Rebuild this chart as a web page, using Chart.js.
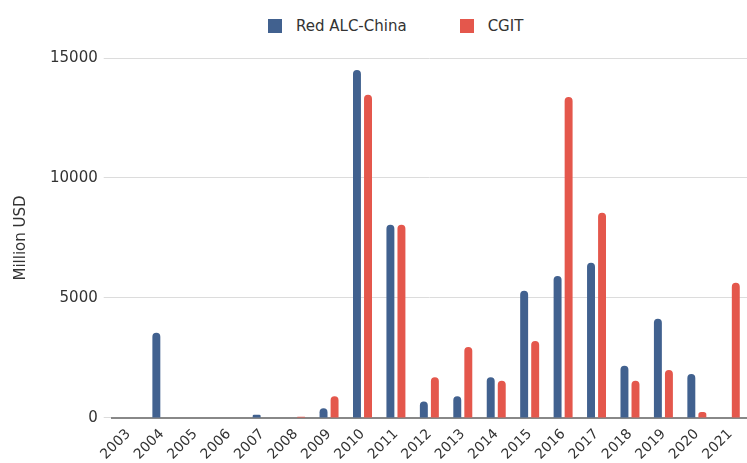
<!DOCTYPE html>
<html>
<head>
<meta charset="utf-8">
<script src="https://cdn.jsdelivr.net/npm/chart.js@4"></script>
<style>
    html, body { margin: 0; padding: 0; background: #fff; }
    #wrap { position: relative; width: 747px; height: 463px; font-family: "DejaVu Sans", Verdana, sans-serif; color: #333; }
    #legend { position: absolute; top: 17px; left: 268px; display: flex; align-items: center; font-size: 15px; white-space: nowrap; }
    #legend .item { display: flex; align-items: center; margin-right: 53px; }
    #legend .box { width: 14px; height: 14px; margin-right: 14px; }
    #canvas-box { position: absolute; top: 43px; left: 0; width: 747px; height: 420px; }
</style>
</head>
<body>
<div id="wrap">
    <div id="legend"></div>
    <div id="canvas-box"><canvas id="chart"></canvas></div>
</div>
<script>
const years = ['2003', '2004', '2005', '2006', '2007', '2008', '2009', '2010', '2011', '2012',
    '2013', '2014', '2015', '2016', '2017', '2018', '2019', '2020', '2021'];
const redAlcChina = [20, 3550, 0, 15, 130, 15, 400, 14500, 8050, 680, 900, 1700, 5300, 5920, 6470, 2170, 4130, 1830, 0];
const cgit = [0, 0, 0, 0, 0, 50, 900, 13470, 8050, 1700, 2960, 1550, 3210, 13370, 8550, 1550, 2000, 250, 5630];
const yTicks = [0, 5000, 10000, 15000];
const seriesNames = ['Red ALC-China', 'CGIT'];
const seriesColors = ['#41618f', '#e4574c'];

Chart.defaults.font.family = '"DejaVu Sans", Verdana, sans-serif';
Chart.defaults.font.size = 15;
Chart.defaults.color = '#333';

// leyenda en HTML para controlar los espacios
document.getElementById('legend').innerHTML = seriesNames.map((n, i) =>
    `<div class="item"><span class="box" style="background:${seriesColors[i]}"></span><span>${n}</span></div>`
).join('');

const ctx = document.getElementById('chart').getContext('2d');
new Chart(ctx, {
    type: 'bar',
    data: {
        labels: years,
        datasets: [
            { label: seriesNames[0], data: redAlcChina, backgroundColor: seriesColors[0], borderRadius: 4 },
            { label: seriesNames[1], data: cgit, backgroundColor: seriesColors[1], borderRadius: 4 }
        ]
    },
    options: {
        responsive: true,
        maintainAspectRatio: false,
        animation: false,
        categoryPercentage: 0.66,
        barPercentage: 0.72,
        layout: { padding: { top: 12, right: 0, left: 8, bottom: 0 } },
        plugins: {
            legend: { display: false },
            tooltip: { enabled: false }
        },
        scales: {
            x: {
                grid: { display: false },
                border: { display: true, color: '#888', width: 2 },
                ticks: { maxRotation: 45, minRotation: 45, padding: 0, font: { size: 14 } }
            },
            y: {
                min: 0,
                max: 15000,
                afterBuildTicks: axis => { axis.ticks = yTicks.map(v => ({ value: v })); },
                grid: { color: '#dcdcdc', tickLength: 8 },
                border: { display: false },
                ticks: { padding: 6, callback: v => String(v) },
                title: { display: true, text: 'Million USD', padding: { bottom: 14 } }
            }
        }
    }
});
</script>
</body>
</html>
